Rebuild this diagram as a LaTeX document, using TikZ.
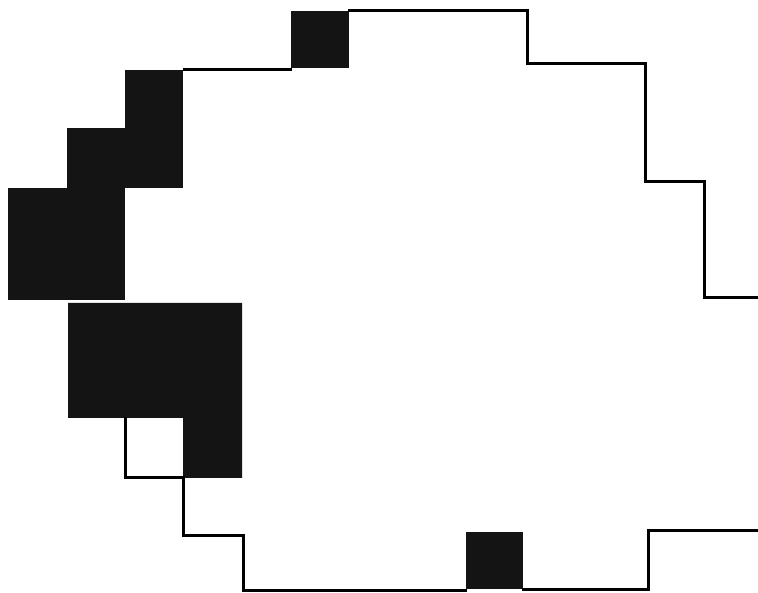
\documentclass[tikz,border=0pt]{standalone}
\begin{document}
\begin{tikzpicture}[x=1pt,y=-1pt,
  outline/.style={draw=black,line width=3pt,line join=miter},
  cell/.style={fill=black!92}]
\useasboundingbox[fill=white] (0,0) rectangle (758,593);
% shaded cells
\fill[cell] (291,11) rectangle (349,68);
\fill[cell] (466,532) rectangle (523,589);
\fill[cell] (125,70) rectangle (183,188);
\fill[cell] (67,128) rectangle (125,188);
\fill[cell] (8,188) rectangle (125,300);
\fill[cell] (68,303) -- (242,303) -- (242,478) -- (183,478) -- (183,418) -- (68,418) -- cycle;
% outline
\draw[outline] (183,70) -- (292,70);
\draw[outline] (348,11) -- (527,11) -- (527,64) -- (645,64) -- (645,182) -- (704,182) -- (704,298) -- (758,298);
\draw[outline] (758,530) -- (648,530) -- (648,589) -- (522,589);
\draw[outline] (467,590) -- (243,590) -- (243,535) -- (183,535) -- (183,478) -- (125,478) -- (125,417);
\end{tikzpicture}
\end{document}
